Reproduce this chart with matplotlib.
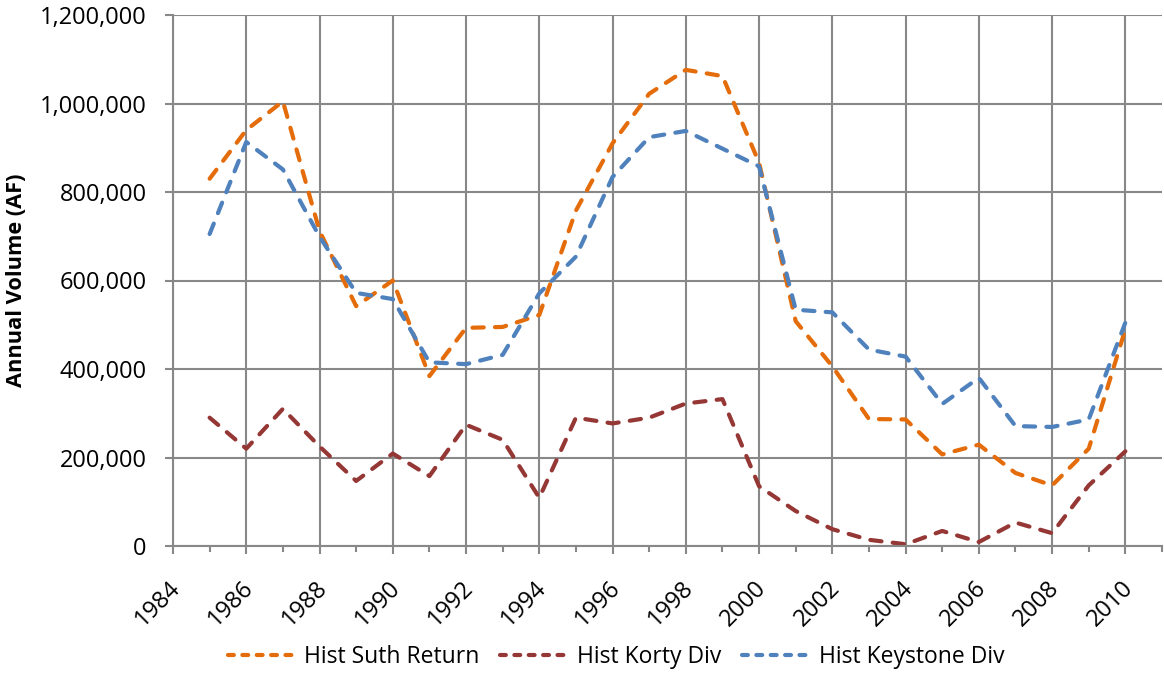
import numpy as np
import matplotlib
matplotlib.use('Agg')
import matplotlib.pyplot as plt
from matplotlib.lines import Line2D
from matplotlib.transforms import ScaledTranslation
from matplotlib.ticker import FuncFormatter, MultipleLocator

plt.rcParams['font.family'] = ['Open Sans', 'DejaVu Sans']

years = list(range(1985, 2011))

suth_return = [830000, 940000, 1005000, 712000, 542000, 600000, 384000, 493000,
               495000, 522000, 758000, 910000, 1022000, 1076000, 1062000, 866000,
               508000, 406000, 287000, 286000, 207000, 229000, 165000, 137000,
               220000, 490000]

korty_div = [290000, 220000, 310000, 225000, 147000, 209000, 158000, 274000,
             240000, 109000, 290000, 277000, 290000, 322000, 332000, 135000,
             79000, 38000, 14000, 4000, 34000, 9000, 53000, 29000,
             137000, 214000]

keystone_div = [705000, 913000, 851000, 699000, 572000, 558000, 415000, 411000,
                432000, 571000, 654000, 834000, 924000, 938000, 898000, 858000,
                534000, 528000, 444000, 428000, 321000, 380000, 271000, 269000,
                286000, 505000]

labels = ['Hist Suth Return', 'Hist Korty Div', 'Hist Keystone Div']
colors = ['#E46C0A', '#953735', '#4F81BD']

fig = plt.figure(figsize=(11.64, 6.73), dpi=100)
ax = fig.add_axes([173/1164, 1-546/673, (1162-173)/1164, (546-15)/673])

handles = []
for vals, lab, col in zip([suth_return, korty_div, keystone_div], labels, colors):
    ax.plot(years, vals, color=col, lw=3,
            dashes=(2.7, 2.7), dash_capstyle='round')
    # shorter dashes for the legend key, like the Excel original
    handles.append(Line2D([], [], color=col, lw=3, dashes=(1.4, 2.05),
                          dash_capstyle='round', label=lab))

ax.set_xlim(1984, 2011)
ax.set_ylim(0, 1200000)
ax.xaxis.set_major_locator(MultipleLocator(2))
ax.xaxis.set_minor_locator(MultipleLocator(1))
ax.yaxis.set_major_locator(MultipleLocator(200000))
ax.yaxis.set_major_formatter(FuncFormatter(lambda v, p: f'{int(v):,}'))

gcol = '#888888'
ax.grid(True, which='major', color=gcol, lw=1.5)
ax.set_axisbelow(True)
for s in ['top', 'right']:
    ax.spines[s].set_visible(False)
for s in ['left', 'bottom']:
    ax.spines[s].set_color(gcol)
    ax.spines[s].set_linewidth(1.5)

ax.tick_params(axis='y', which='major', length=6, width=1.5, color=gcol,
               labelsize=17, pad=13)
ax.tick_params(axis='x', which='major', length=6, width=1.5, color=gcol,
               labelsize=17, pad=22)
ax.tick_params(axis='x', which='minor', length=4, width=1.5, color=gcol)
shift = ScaledTranslation(4/100, 0, fig.dpi_scale_trans)
for lbl in ax.get_xticklabels():
    lbl.set_rotation(45)
    lbl.set_ha('right')
    lbl.set_va('center')
    lbl.set_rotation_mode('anchor')
    lbl.set_transform(lbl.get_transform() + shift)

fig.text(17/1164, 1-280/673, 'Annual Volume (AF)', rotation=90, fontsize=15.7,
         fontweight='bold', ha='center', va='center')

fig.legend(handles=handles, loc='center', bbox_to_anchor=(616/1164, 1-657/673),
           ncol=3, frameon=False, fontsize=16.5, handlelength=2.9,
           handletextpad=0.45, columnspacing=0.9)

fig.savefig('out.png', dpi=100)
